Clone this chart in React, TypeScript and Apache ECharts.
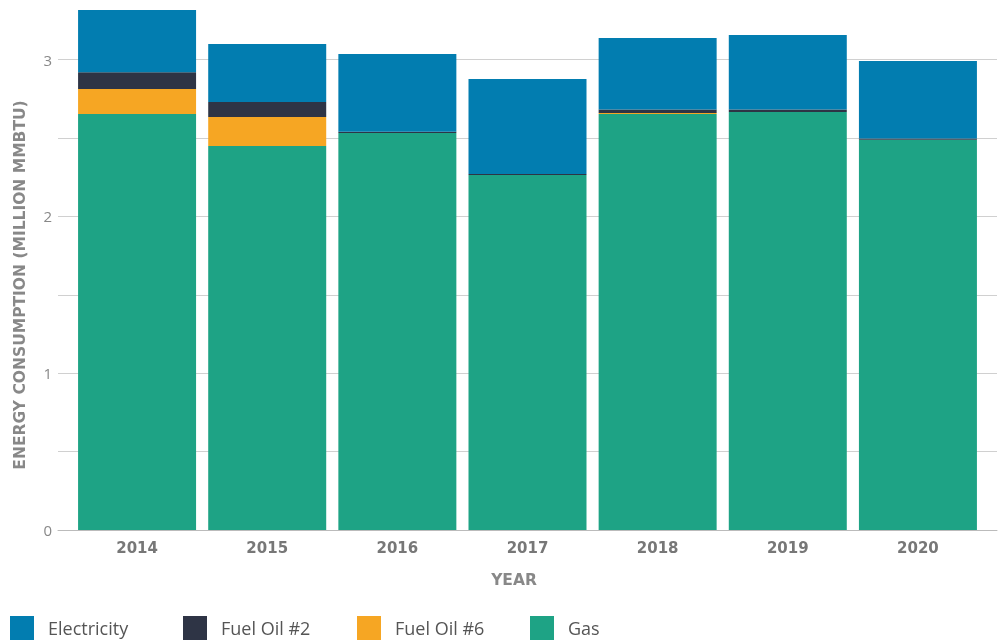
import React, { useEffect, useRef } from "react";
import * as echarts from "echarts";

const years = ["2014", "2015", "2016", "2017", "2018", "2019", "2020"];
const gas = [2.653, 2.449, 2.532, 2.264, 2.653, 2.666, 2.489];
const fuelOil6 = [0.159, 0.185, 0, 0, 0.006, 0, 0];
const fuelOil2 = [0.108, 0.096, 0.008, 0.007, 0.022, 0.015, 0.007];
const electricity = [0.396, 0.37, 0.496, 0.606, 0.457, 0.476, 0.495];
const legendNames = ["Electricity", "Fuel Oil #2", "Fuel Oil #6", "Gas"];
const yTicks = [0, 1, 2, 3];

const COLORS: Record<string, string> = {
  Electricity: "#027db0",
  "Fuel Oil #2": "#2e3445",
  "Fuel Oil #6": "#f6a623",
  Gas: "#1ea385",
};

const FONT = "'Open Sans', 'Noto Sans', sans-serif";
const BOLD = "'DejaVu Sans', 'Open Sans', sans-serif";

export default function App() {
  const ref = useRef<HTMLDivElement>(null);
  useEffect(() => {
    if (!ref.current) return;
    const chart = echarts.init(ref.current, undefined, { renderer: "svg" });
    const legendLefts = [10, 183, 357, 530];
    const mk = (name: string, data: number[]) => ({
      name,
      type: "bar",
      stack: "total",
      xAxisIndex: 1,
      yAxisIndex: 1,
      barWidth: 118,
      itemStyle: { color: COLORS[name] },
      emphasis: { disabled: true },
      data,
    });
    chart.setOption({
      animation: false,
      grid: [
        { left: 58, right: 8, top: 59.6, bottom: 111 },
        { left: 72, right: 22, top: 8, bottom: 111 },
      ],
      xAxis: [
        {
          gridIndex: 0,
          type: "category",
          data: years,
          axisLabel: { show: false },
          axisTick: { show: false },
          axisLine: { lineStyle: { color: "#bbbbbb", width: 1 } },
        },
        {
          gridIndex: 1,
          type: "category",
          data: years,
          axisTick: { show: false },
          axisLine: { show: false },
          axisLabel: {
            margin: 10,
            color: "#777777",
            fontSize: 15,
            fontWeight: "bold",
            fontFamily: BOLD,
          },
        },
      ],
      yAxis: [
        {
          gridIndex: 0,
          type: "value",
          min: 0,
          max: 3,
          interval: 0.5,
          axisLine: { show: false },
          axisTick: { show: false },
          splitLine: { lineStyle: { color: "#d0d0d0", width: 1 } },
          axisLabel: {
            margin: 6,
            color: "#888888",
            fontSize: 15,
            fontFamily: FONT,
            formatter: (v: number) => (yTicks.includes(v) ? String(v) : ""),
          },
        },
        {
          gridIndex: 1,
          type: "value",
          min: 0,
          max: 3.329,
          show: false,
        },
      ],
      legend: legendNames.map((n, i) => ({
        data: [n],
        left: legendLefts[i],
        top: 616,
        padding: 0,
        icon: "rect",
        itemWidth: 24,
        itemHeight: 24,
        selectedMode: false,
        textStyle: {
          fontSize: 18,
          color: "#555555",
          fontFamily: FONT,
          padding: [0, 0, 0, 9],
        },
      })),
      graphic: [
        {
          type: "text",
          x: 20,
          y: 285,
          rotation: Math.PI / 2,
          style: {
            text: "ENERGY CONSUMPTION (MILLION MMBTU)",
            font: `bold 15.5px ${BOLD}`,
            fill: "#888888",
            textAlign: "center",
            textVerticalAlign: "middle",
          },
        },
        {
          type: "text",
          x: 514,
          y: 580,
          style: {
            text: "YEAR",
            font: `bold 15.5px ${BOLD}`,
            fill: "#888888",
            textAlign: "center",
            textVerticalAlign: "middle",
          },
        },
      ],
      series: [
        mk("Gas", gas),
        mk("Fuel Oil #6", fuelOil6),
        mk("Fuel Oil #2", fuelOil2),
        mk("Electricity", electricity),
      ],
    });
    return () => chart.dispose();
  }, []);
  return (
    <div
      ref={ref}
      style={{ position: "fixed", left: 0, top: 0, width: 1005, height: 641 }}
    />
  );
}
